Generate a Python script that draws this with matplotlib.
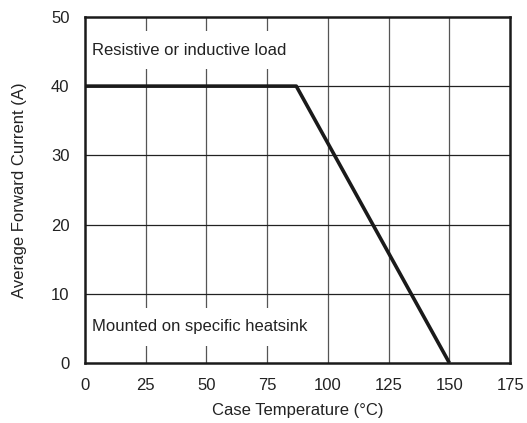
import matplotlib
matplotlib.use("Agg")
import matplotlib.pyplot as plt

temps = [0, 87, 150]
currents = [40, 40, 0]
xticks = [0, 25, 50, 75, 100, 125, 150, 175]
yticks = [0, 10, 20, 30, 40, 50]

plt.rcParams['font.family'] = ['Liberation Sans', 'DejaVu Sans']

fig = plt.figure(figsize=(5.27, 4.23), dpi=100)
ax = fig.add_axes([0.161, 0.142, 0.807, 0.818])

ax.set_xlim(0, 175)
ax.set_ylim(0, 50)
ax.set_xticks(xticks)
ax.set_yticks(yticks)
ax.tick_params(axis='y', length=0, labelsize=12, pad=11, colors='#222222')
ax.tick_params(axis='x', length=0, labelsize=12, pad=11, colors='#222222')

for x in xticks[1:-1]:
    ax.axvline(x, color='#555555', lw=0.9, zorder=1)
for y in yticks[1:-1]:
    ax.axhline(y, color='#222222', lw=0.9, zorder=1)

ax.plot(temps, currents, color='#1a1a1a', lw=2.6, zorder=5, solid_capstyle='butt')

box = dict(facecolor='white', edgecolor='none', pad=8)
ax.text(3, 45.2, 'Resistive or inductive load', fontsize=12, va='center', ha='left',
        color='#222222', bbox=box, zorder=3)
ax.text(3, 5.2, 'Mounted on specific heatsink', fontsize=12, va='center', ha='left',
        color='#222222', bbox=box, zorder=3)

for s in ax.spines.values():
    s.set_linewidth(1.8)
    s.set_color('#1a1a1a')
    s.set_zorder(10)

ax.set_xlabel('Case Temperature (°C)', fontsize=12, color='#222222', labelpad=7)
ax.set_ylabel('Average Forward Current (A)', fontsize=12, color='#222222', labelpad=17)

fig.savefig('out.png', dpi=100)
